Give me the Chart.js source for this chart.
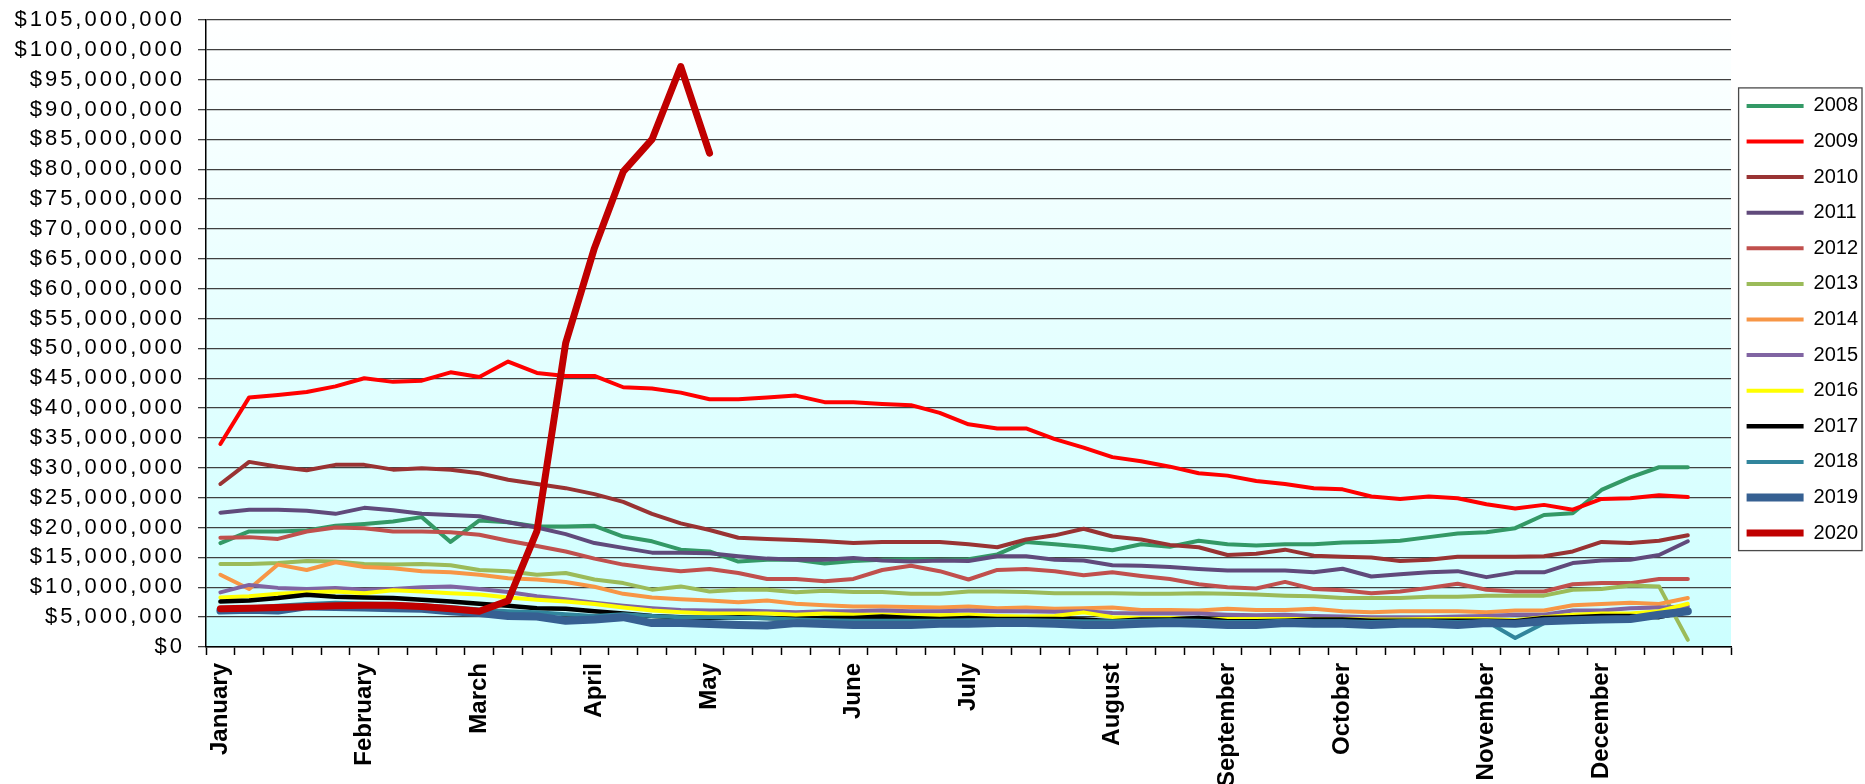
<!DOCTYPE html>
<html>
<head>
<meta charset="utf-8">
<script src="https://cdn.jsdelivr.net/npm/chart.js@4.4.1/dist/chart.umd.min.js"></script>
<style>
html,body{margin:0;padding:0;background:#ffffff;overflow:hidden;}
#wrap{width:1865px;height:784px;position:relative;}
</style>
</head>
<body>
<div id="wrap"><canvas id="c" width="1865" height="784"></canvas></div>
<script>
// Week-of-year categories (53 slots); only the first week of each month is labelled
const weekLabels = [
  'January','','','','','February','','','','March','','','','April','','','','May','','','','',
  'June','','','','July','','','','','August','','','','September','','','','October','','','','',
  'November','','','','December','','','',''
];

const seriesYears = ['2008','2009','2010','2011','2012','2013','2014','2015','2016','2017','2018','2019','2020'];

// Weekly values in millions of dollars
const y2008 = [17.4,19.35,19.35,19.5,20.3,20.6,21.0,21.75,17.6,21.2,20.9,20.2,20.2,20.3,18.5,17.7,16.3,16.0,14.3,14.6,14.6,14.0,14.4,14.6,14.7,14.6,14.7,15.5,17.6,17.2,16.8,16.2,17.2,16.8,17.8,17.2,17.0,17.2,17.2,17.5,17.6,17.8,18.4,19.0,19.2,19.9,22.1,22.4,26.3,28.4,30.1,30.1];
const y2009 = [34.0,41.8,42.2,42.7,43.65,45.0,44.4,44.6,46.0,45.2,47.8,45.9,45.4,45.4,43.5,43.3,42.6,41.5,41.5,41.8,42.1,41.0,41.0,40.7,40.5,39.2,37.3,36.6,36.6,34.8,33.4,31.8,31.1,30.2,29.1,28.7,27.8,27.3,26.6,26.4,25.2,24.8,25.2,24.9,23.9,23.2,23.8,23.0,24.8,24.9,25.4,25.1];
const y2010 = [27.3,31.0,30.2,29.6,30.5,30.5,29.7,29.95,29.7,29.1,28.0,27.3,26.6,25.6,24.3,22.3,20.7,19.6,18.3,18.1,17.9,17.7,17.4,17.6,17.6,17.6,17.2,16.7,18.0,18.7,19.8,18.5,18.0,17.1,16.7,15.4,15.6,16.3,15.3,15.1,15.0,14.4,14.6,15.1,15.1,15.1,15.2,16.0,17.6,17.4,17.8,18.7];
const y2011 = [22.5,23.0,23.0,22.8,22.3,23.3,22.9,22.3,22.1,21.9,20.9,20.0,18.9,17.4,16.6,15.8,15.8,15.7,15.2,14.8,14.6,14.6,14.9,14.5,14.3,14.5,14.4,15.2,15.2,14.6,14.5,13.7,13.6,13.4,13.05,12.8,12.8,12.8,12.5,13.1,11.8,12.2,12.5,12.7,11.7,12.5,12.5,14.05,14.5,14.6,15.4,17.7];
const y2012 = [18.3,18.4,18.1,19.35,20.0,19.9,19.35,19.35,19.2,18.8,17.8,16.9,16.0,14.8,13.8,13.2,12.7,13.05,12.4,11.4,11.4,11.0,11.4,12.9,13.6,12.7,11.3,12.9,13.05,12.7,12.0,12.5,11.9,11.4,10.5,10.0,9.8,10.9,9.7,9.5,9.0,9.3,9.9,10.6,9.6,9.3,9.3,10.5,10.7,10.7,11.4,11.4];
const y2013 = [13.9,13.9,14.05,14.4,14.3,13.9,13.8,13.9,13.7,12.9,12.7,12.1,12.4,11.3,10.7,9.6,10.15,9.3,9.6,9.6,9.15,9.4,9.2,9.2,8.9,8.9,9.3,9.3,9.2,9.0,9.0,9.0,8.9,8.9,9.0,8.9,8.8,8.6,8.5,8.2,8.2,8.2,8.4,8.4,8.6,8.6,8.6,9.6,9.7,10.3,10.15,1.2];
const y2014 = [12.1,9.7,13.8,12.9,14.2,13.4,13.2,12.7,12.5,12.1,11.5,11.3,10.9,10.1,8.9,8.3,8.0,7.8,7.5,7.8,7.25,7.0,6.8,6.8,6.7,6.6,6.8,6.5,6.6,6.4,6.5,6.6,6.2,6.2,6.1,6.4,6.2,6.2,6.4,6.0,5.8,6.0,6.0,6.0,5.8,6.1,6.1,7.0,7.2,7.4,7.2,8.2];
const y2015 = [9.15,10.4,9.9,9.7,9.9,9.6,9.7,10.0,10.15,9.7,9.2,8.5,8.0,7.4,6.9,6.5,6.2,6.1,6.1,6.0,5.8,6.0,6.0,6.1,6.0,6.0,6.1,6.0,6.0,5.9,6.0,5.7,5.6,5.6,5.6,5.4,5.3,5.4,5.2,5.1,5.0,5.0,5.0,5.1,5.2,5.4,5.4,6.1,6.1,6.5,6.6,6.8];
const y2016 = [8.3,8.5,8.9,9.15,9.3,9.0,9.5,9.3,9.0,8.8,8.3,7.9,7.6,7.2,6.6,6.1,5.8,5.6,5.6,5.6,5.4,5.6,5.4,5.4,5.3,5.3,5.4,5.2,5.1,5.2,5.8,5.0,4.85,4.85,4.7,4.7,4.7,4.7,4.7,4.7,4.6,4.6,4.7,4.7,4.7,4.5,5.0,5.4,5.6,5.6,6.0,7.25];
const y2017 = [7.6,7.8,8.2,8.75,8.4,8.3,8.2,7.9,7.6,7.25,6.9,6.5,6.4,6.0,5.6,5.2,5.0,4.85,5.0,4.85,4.7,4.85,4.85,5.1,4.85,4.7,4.85,4.7,4.7,4.7,4.6,4.3,4.6,4.6,4.85,4.3,4.3,4.4,4.6,4.6,4.4,4.4,4.4,4.4,4.4,4.3,4.85,5.0,5.2,5.2,5.0,6.0];
const y2018 = [6.5,6.6,6.9,7.2,7.4,7.3,7.2,7.0,6.7,6.3,6.0,5.8,5.5,5.2,5.5,5.2,5.0,5.0,4.9,4.8,4.6,4.5,4.4,4.4,4.4,4.4,4.5,4.5,4.5,4.4,4.3,4.3,4.4,4.5,4.4,4.2,4.2,4.4,4.3,4.3,4.2,4.3,4.3,4.2,4.3,1.5,4.0,4.6,4.8,4.9,5.5,6.0];
const y2019 = [6.1,6.25,6.1,6.8,6.7,6.6,6.5,6.4,6.0,5.7,5.2,5.1,4.4,4.6,5.0,4.0,4.0,3.85,3.7,3.6,4.0,3.85,3.7,3.7,3.7,3.9,3.9,4.0,4.0,3.9,3.7,3.7,3.9,4.0,3.9,3.7,3.7,4.0,3.9,3.9,3.7,3.9,3.9,3.7,4.0,3.9,4.3,4.5,4.6,4.7,5.4,6.0];
const y2020 = [6.4,6.5,6.6,6.75,6.9,7.0,7.0,6.8,6.4,6.0,7.75,19.4,50.9,66.8,79.6,85.0,97.2,82.7];

const seriesColors = ['#339966','#ff0000','#993333','#604a7b','#c0504d','#9bbb59','#f79646','#8064a2','#ffff00','#000000','#31859c','#366092','#c00000'];
const seriesWidths = [4,4,4,4,4,4,4,4,4,4.5,4,8,7];

const yTickValues = [0,5,10,15,20,25,30,35,40,45,50,55,60,65,70,75,80,85,90,95,100,105];

const valuesByYear = [y2008,y2009,y2010,y2011,y2012,y2013,y2014,y2015,y2016,y2017,y2018,y2019,y2020];

const datasets = seriesYears.map((yr, k) => ({
  label: yr,
  data: valuesByYear[k].map(v => v * 1e6),
  borderColor: seriesColors[k],
  backgroundColor: seriesColors[k],
  borderWidth: seriesWidths[k],
  borderCapStyle: 'round',
  borderJoinStyle: 'round',
  pointRadius: 0,
  pointHoverRadius: 0,
  tension: 0,
  fill: false,
  order: seriesYears.length - 1 - k
}));

const FONT = "'Liberation Sans', Arial, Helvetica, sans-serif";

const decorPlugin = {
  id: 'decor',
  afterLayout(chart) {
    const lg = chart.legend;
    if (lg) { lg.top -= 14; lg.bottom -= 14; }
  },
  beforeDraw(chart) {
    const ctx = chart.ctx;
    const a = chart.chartArea;
    ctx.save();
    ctx.fillStyle = '#ffffff';
    ctx.fillRect(0, 0, chart.width, chart.height);
    const g = ctx.createLinearGradient(0, a.top, 0, a.bottom);
    g.addColorStop(0, '#ffffff');
    g.addColorStop(1, '#ccffff');
    ctx.fillStyle = g;
    ctx.fillRect(a.left, a.top, a.right - a.left, a.bottom - a.top);
    ctx.restore();
    const ys = chart.scales.y;
    if (ys && !ys._lsPatched) {
      const orig = ys.drawLabels.bind(ys);
      ys.drawLabels = function (area) {
        const c = this.ctx;
        c.save();
        c.letterSpacing = '3px';
        orig(area);
        c.restore();
      };
      ys._lsPatched = true;
    }
  },
  afterDraw(chart) {
    const lg = chart.legend;
    if (!lg || !lg.legendHitBoxes || !lg.legendHitBoxes.length) return;
    const hb = lg.legendHitBoxes;
    const first = hb[0], last = hb[hb.length - 1];
    const ctx = chart.ctx;
    const x0 = first.left - 8, y0 = first.top - 8;
    const y1 = last.top + last.height + 7.5, x1 = chart.width - 3;
    ctx.save();
    ctx.strokeStyle = '#4a4a4a';
    ctx.lineWidth = 1.3;
    ctx.strokeRect(x0, y0, x1 - x0, y1 - y0);
    ctx.restore();
  }
};

new Chart(document.getElementById('c'), {
  type: 'line',
  data: { labels: weekLabels, datasets },
  options: {
    responsive: false,
    animation: false,
    devicePixelRatio: 1,
    events: [],
    layout: { padding: { top: 20, left: 0, right: 0, bottom: 0 } },
    plugins: {
      legend: {
        position: 'right',
        fullSize: false,
        align: 'center',
        maxWidth: 134,
        labels: {
          usePointStyle: true,
          pointStyle: 'line',
          pointStyleWidth: 57,
          boxWidth: 57,
          padding: 15.6,
          color: '#000000',
          font: { family: FONT, size: 20 },
          sort: (a, b) => a.datasetIndex - b.datasetIndex
        }
      },
      tooltip: { enabled: false },
      title: { display: false }
    },
    scales: {
      x: {
        type: 'category',
        offset: true,
        grid: { offset: true, drawOnChartArea: false, drawTicks: true, tickLength: 8, tickColor: '#000000', tickWidth: 1.5 },
        border: { color: '#000000', width: 1.5 },
        ticks: {
          autoSkip: false, maxRotation: 90, minRotation: 90, padding: 8,
          color: '#000000',
          font: { family: FONT, size: 24, weight: 'bold' }
        },
        afterFit(s) { s.height = 137; s.paddingLeft = 0; s.paddingRight = 0; }
      },
      y: {
        min: 0,
        max: 105e6,
        afterBuildTicks(s) { s.ticks = yTickValues.map(v => ({ value: v * 1e6 })); },
        ticks: {
          padding: 13,
          color: '#000000',
          font: { family: FONT, size: 22 },
          callback: v => '$' + Number(v).toLocaleString('en-US')
        },
        grid: { color: '#404040', lineWidth: 1.3, tickLength: 8, tickColor: '#404040', tickWidth: 1.3 },
        border: { color: '#000000', width: 1.5 },
        afterFit(s) { s.width = 206; s.paddingTop = 0; s.paddingBottom = 0; }
      }
    }
  },
  plugins: [decorPlugin]
});
</script>
</body>
</html>
